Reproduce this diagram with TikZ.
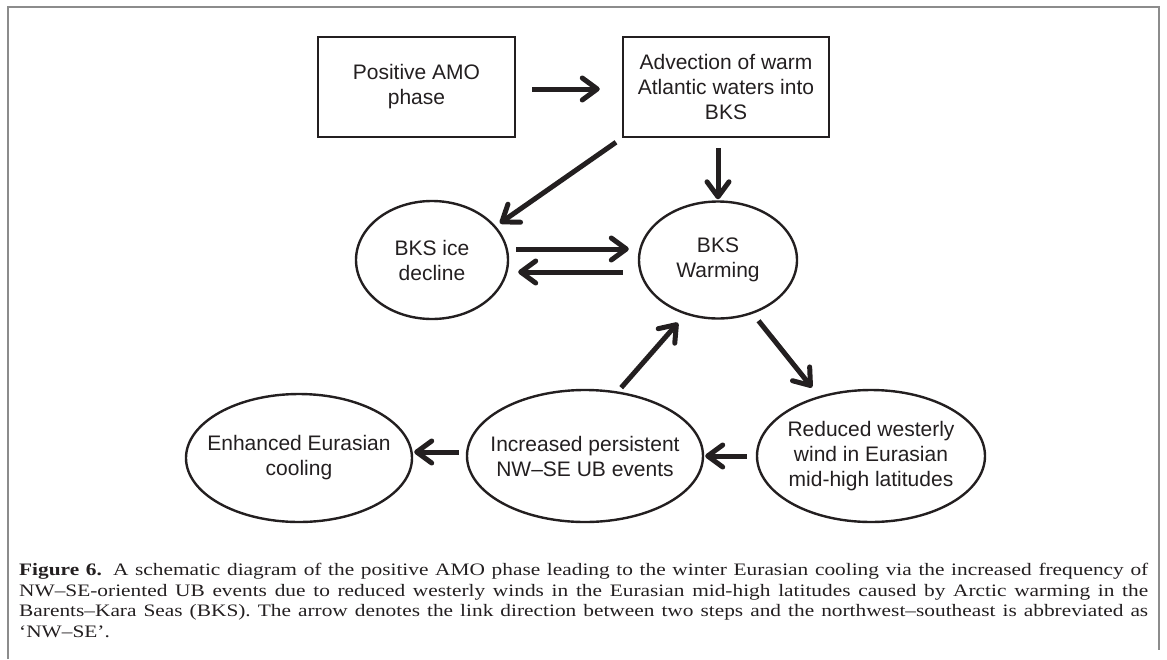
\documentclass[tikz,border=0pt]{standalone}
\usepackage{fontspec}
\setmainfont{Liberation Serif}[FakeStretch=1.22]
\newfontfamily\diagfont{Liberation Sans}
\usetikzlibrary{arrows.meta,shapes.geometric,positioning}
\definecolor{ink}{HTML}{231F20}
\definecolor{framegray}{HTML}{8C8C8C}

\begin{document}
\begin{tikzpicture}[x=1pt,y=-1pt,
	box/.style={draw=ink,line width=2.5pt,minimum width=197pt,minimum height=100pt,inner sep=0pt,align=center,text=ink,font=\diagfont\fontsize{21}{25}\selectfont},
	bubble/.style={draw=ink,ellipse,line width=2.4pt,inner sep=0pt},
	txt/.style={align=center,text=ink,inner sep=0pt,font=\diagfont\fontsize{21}{25}\selectfont},
	arr/.style={draw=ink,line width=5pt,-{Straight Barb[length=15pt,width=22pt,round]}}
	]
	\useasboundingbox (0,0) rectangle (1167,659);
	% frame round the figure
	\draw[framegray,line width=2pt] (8,659) -- (8,7) -- (1159,7) -- (1159,650);

	% boxes
	\node[box] (amo) at (416.5,87) {Positive AMO\\phase};
	\node[box,minimum width=206pt] (adv) at (726,87) {Advection of warm\\Atlantic waters into\\BKS};

	% ellipses
	\node[bubble,minimum width=152pt,minimum height=118pt,label={[txt]center:{BKS ice\\decline}}] (ice) at (432,260) {};
	\node[bubble,minimum width=158pt,minimum height=117pt,label={[txt]center:{BKS\\Warming}}] (warm) at (718,260) {};
	\node[bubble,minimum width=226pt,minimum height=128pt,label={[txt]center:{Enhanced Eurasian\\cooling}}] (cool) at (299,458) {};
	\node[bubble,minimum width=236pt,minimum height=132pt,label={[txt]center:{Increased persistent\\NW–SE UB events}}] (incr) at (585,456) {};
	\node[bubble,minimum width=228pt,minimum height=132pt,label={[txt]center:{Reduced westerly\\wind in Eurasian\\mid-high latitudes}}] (wind) at (871,456) {};

	% links
	\draw[arr,shorten <=16pt,shorten >=22pt] ([yshift=-2pt]amo.east) -- ([yshift=-2pt]amo.east -| adv.west);
	\draw[arr,shorten <=10pt,shorten >=1pt] (adv.south -| warm.north) -- (warm.north);
	\draw[arr,shorten <=7pt,shorten >=5pt] (adv.south west) -- (ice.28);
	\draw[arr,shorten <=7pt,shorten >=9pt] ([yshift=11pt]ice.east) -- ([yshift=11pt]ice.east -| warm.west);
	\draw[arr,shorten <=15pt,shorten >=9pt] ([yshift=-12pt]warm.west) -- ([yshift=-12pt]warm.west -| ice.east);
	\draw[arr,shorten <=9pt,shorten >=11pt] (warm.-57) -- (wind.131);
	\draw[arr,shorten <=5pt,shorten >=11pt] (incr.63) -- (warm.-121);
	\draw[arr,shorten <=9pt,shorten >=1pt] (wind.west) -- (incr.east);
	\draw[arr,shorten <=7pt,shorten >=1pt] ([yshift=4pt]incr.west) -- ([yshift=4pt]incr.west -| cool.east);

	% caption
	\node[anchor=north west,text width=1129pt,inner sep=0pt,align=justify,text=ink,font=\fontsize{17.5}{20.5}\selectfont] (caption) at (19,563) {\textbf{Figure 6.} A schematic diagram of the positive AMO phase leading to the winter Eurasian cooling via the increased frequency of\linebreak NW–SE-oriented UB events due to reduced westerly winds in the Eurasian mid-high latitudes caused by Arctic warming in the\linebreak Barents–Kara Seas (BKS). The arrow denotes the link direction between two steps and the northwest–southeast is abbreviated as\linebreak ‘NW–SE’.};
\end{tikzpicture}
\end{document}
